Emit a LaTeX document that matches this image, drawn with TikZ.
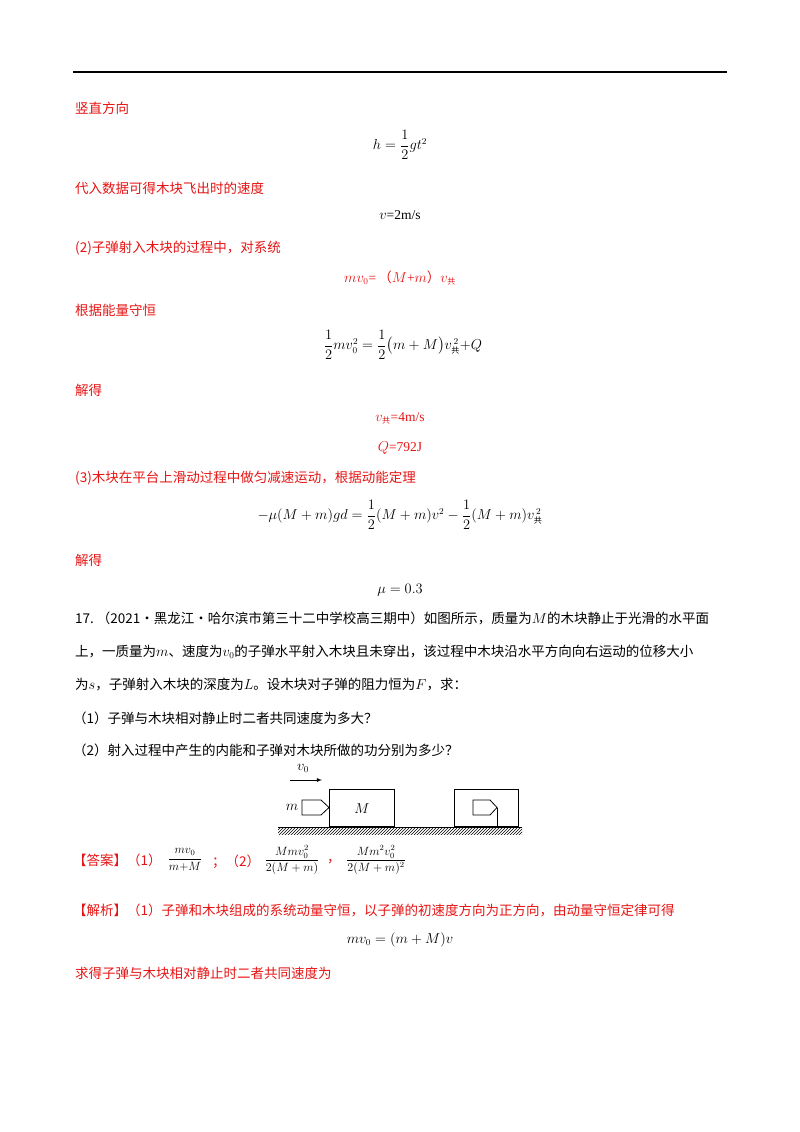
\documentclass[tikz,border=0pt]{standalone}
\usepackage{amsmath}
\usepackage{fontspec}
\setmainfont{Liberation Serif}
\newfontfamily\cjk{Noto Sans CJK SC}
\usetikzlibrary{patterns}
\definecolor{ansred}{RGB}{230,20,20}
\newcommand{\gong}{\mbox{\cjk\fontsize{8}{8}\selectfont 共}}
\begin{document}
\begin{tikzpicture}[x=1pt,y=-1pt,
  every node/.style={inner sep=0pt,font=\fontsize{13.5}{16}\selectfont},
  txt/.style={anchor=west,font=\cjk\fontsize{13.5}{16}\selectfont},
  rtxt/.style={txt,text=ansred},
  eq/.style={anchor=center},
  box/.style={draw,line width=0.8pt}]
\useasboundingbox (0,0) rectangle (800,1132);
\draw[line width=1.2pt] (73,72) -- (727,72);
\node[rtxt] (t1) at (75,108) {竖直方向};
\node[eq] (e1) at (400,145) {$h=\dfrac{1}{2}gt^2$};
\node[rtxt] (t2) at (75,188) {代入数据可得木块飞出时的速度};
\node[eq] (e2) at (400,215) {$v$=2m/s};
\node[rtxt] (t3) at (75,248) {(2)子弹射入木块的过程中，对系统};
\node[eq,text=ansred] (e3) at (400,278) {$mv_0$=\,{\cjk（}$M$+$m${\cjk）}$v_{\gong}$};
\node[rtxt] (t4) at (75,310) {根据能量守恒};
\node[eq] (e4) at (403,345) {$\dfrac{1}{2}mv_0^2=\dfrac{1}{2}\bigl(m+M\bigr)v_{\gong}^{\,2}{+}Q$};
\node[rtxt] (t5) at (75,390) {解得};
\node[eq,text=ansred] (e5) at (400,418) {$v_{\gong}$=4m/s};
\node[eq,text=ansred] (e6) at (400,448) {$Q$=792J};
\node[rtxt] (t6) at (75,478) {(3)木块在平台上滑动过程中做匀减速运动，根据动能定理};
\node[eq] (e7) at (400,515) {$-\mu(M+m)gd=\dfrac{1}{2}(M+m)v^2-\dfrac{1}{2}(M+m)v_{\gong}^{\,2}$};
\node[rtxt] (t7) at (75,560) {解得};
\node[eq] (e8) at (400,590) {$\mu=0.3$};
\node[txt] (p1) at (75,618) {17.\ （2021·黑龙江·哈尔滨市第三十二中学校高三期中）如图所示，质量为$M$的木块静止于光滑的水平面};
\node[txt] (p2) at (75,652) {上，一质量为$m$、速度为$v_0$的子弹水平射入木块且未穿出，该过程中木块沿水平方向向右运动的位移大小};
\node[txt] (p3) at (75,685) {为$s$，子弹射入木块的深度为$L$。设木块对子弹的阻力恒为$F$，求：};
\node[txt] (p4) at (73,718) {（1）子弹与木块相对静止时二者共同速度为多大？};
\node[txt] (p5) at (73,750) {（2）射入过程中产生的内能和子弹对木块所做的功分别为多少？};
% diagram
\coordinate (g1) at (278,827); \coordinate (g2) at (522,827);
\fill[pattern=north east lines] (278,827) rectangle (522,834);
\draw[line width=0.8pt] (g1) -- (g2);
\node[box,minimum width=65pt,minimum height=37pt,anchor=south west] (bl) at (329,827) {\itshape $M$};
\node[box,minimum width=64pt,minimum height=37pt,anchor=south west] (br) at (454,827) {};
\draw[line width=0.8pt] (302,800) -- (321,800) -- (329,807.5) -- (321,815) -- (302,815) -- cycle;
\draw[line width=0.8pt] (473,800) -- (490,800) -- (497,807.5) -- (490,815) -- (473,815) -- cycle;
\draw[line width=0.8pt] (497,807.5) -- (497,827);
\node (ml) at (292,807) {$m$};
\coordinate (a1) at (290,780); \coordinate (a2) at (322,780);
\draw[-latex,line width=0.8pt] (a1) -- (a2);
\node (vl) at (303,768) {$v_0$};
% answer
\node[rtxt] (ans) at (73,860) {【答案】（1）};
\node[eq] (f1) at (185,860) {\fontsize{12}{13}\selectfont$\dfrac{mv_0}{m{+}M}$};
\node[rtxt] (s1) at (212,862) {；（2）};
\node[eq] (f2) at (292,860) {\fontsize{12}{13}\selectfont$\dfrac{Mmv_0^2}{2(M+m)}$};
\node[rtxt] (s2) at (327,862) {，};
\node[eq] (f3) at (376,860) {\fontsize{12}{13}\selectfont$\dfrac{Mm^2v_0^2}{2(M+m)^2}$};
\node[rtxt] (an) at (73,910) {【解析】（1）子弹和木块组成的系统动量守恒，以子弹的初速度方向为正方向，由动量守恒定律可得};
\node[eq] (e9) at (400,940) {$mv_0=(m+M)v$};
\node[rtxt] (t9) at (75,973) {求得子弹与木块相对静止时二者共同速度为};
\end{tikzpicture}
\end{document}
